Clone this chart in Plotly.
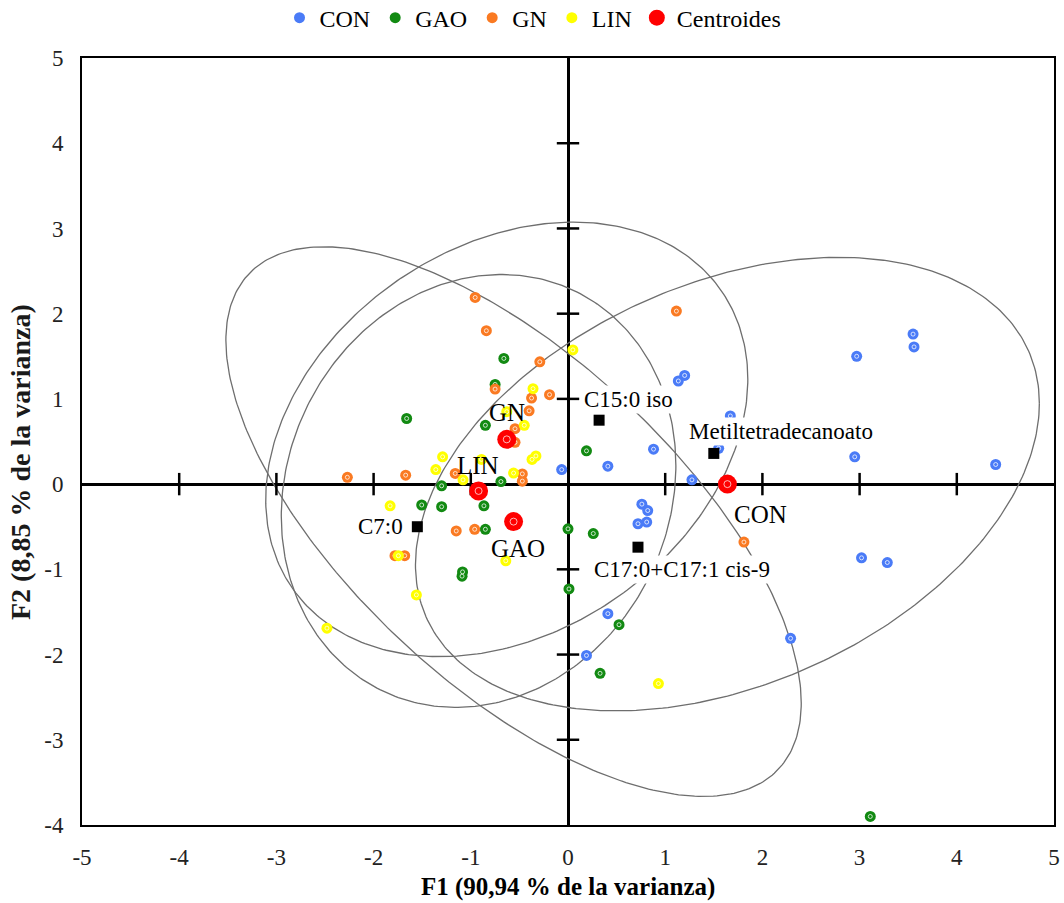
import numpy as np
import plotly.graph_objects as go

# ---------------- data ----------------
con_x = [-0.065, 3.55, 3.56, 2.97, 1.20, 1.135, 1.67, 1.55, 0.88, 0.41, 2.95, 4.40,
         1.275, 0.76, 0.82, 0.72, 0.81, 3.02, 3.285, 0.41, 2.29, 0.19]
con_y = [0.17, 1.76, 1.61, 1.50, 1.275, 1.21, 0.80, 0.42, 0.41, 0.21, 0.32, 0.23,
         0.05, -0.235, -0.31, -0.465, -0.445, -0.865, -0.92, -1.52, -1.81, -2.01]

gao_x = [-0.66, -0.75, -1.66, -0.85, -0.69, -1.30, -1.505, -1.30, -0.865, -0.85, 0.0,
         -1.085, -1.09, 0.01, 0.19, 0.26, 0.525, 0.33, 3.11]
gao_y = [1.475, 1.17, 0.77, 0.69, 0.03, -0.02, -0.245, -0.265, -0.255, -0.53, -0.525,
         -1.03, -1.08, -1.23, 0.39, -0.58, -1.65, -2.22, -3.90]

gn_x = [-0.955, -0.84, -0.29, -0.75, -0.375, -0.19, -0.40, -0.545, -0.545, -2.27, -1.67,
        -1.16, -0.47, -0.47, -1.15, -0.96, -1.78, -1.68, 1.115, 1.81]
gn_y = [2.19, 1.80, 1.435, 1.115, 1.01, 1.05, 0.86, 0.65, 0.49, 0.08, 0.105,
        0.125, 0.12, 0.035, -0.55, -0.53, -0.84, -0.84, 2.03, -0.68]

lin_x = [-0.36, -0.63, -0.45, -1.29, -1.36, -0.89, -0.33, -0.37, -0.56, -1.08, 0.05,
         -1.83, -1.745, -0.64, -1.56, -2.48, 0.93]
lin_y = [1.12, 0.85, 0.69, 0.32, 0.17, 0.29, 0.33, 0.29, 0.13, 0.05, 1.575,
         -0.255, -0.84, -0.90, -1.30, -1.69, -2.34]

centroid_names = ["CON", "GAO", "GN", "LIN"]
centroid_x = [1.64, -0.56, -0.63, -0.92]
centroid_y = [0.0, -0.44, 0.525, -0.08]

# confidence ellipse shape (covariance-like terms, data units)
ell_sxx = [10.3, 8.76, 6.15, 4.12]
ell_sxy = [3.04, -6.3, 1.75, 0.6]
ell_syy = [7.08, 10.4, 6.5, 6.45]

var_names = ["C15:0 iso", "Metiltetradecanoato", "C7:0", "C17:0+C17:1 cis-9"]
var_x = [0.32, 1.50, -1.55, 0.72]
var_y = [0.75, 0.36, -0.50, -0.74]

x_ticks = [-5, -4, -3, -2, -1, 0, 1, 2, 3, 4, 5]
y_ticks = [-4, -3, -2, -1, 0, 1, 2, 3, 4, 5]

# ---------------- styling ----------------
FONT = "Liberation Serif"
col = {"CON": "#4A7BF7", "GAO": "#128A12", "GN": "#FA7A22", "LIN": "#FFFF00"}

fig = go.Figure()

# ellipses
t = np.linspace(0, 2 * np.pi, 361)
for i in range(4):
    S = np.array([[ell_sxx[i], ell_sxy[i]], [ell_sxy[i], ell_syy[i]]])
    L = np.linalg.cholesky(S)
    pts = L @ np.vstack([np.cos(t), np.sin(t)])
    fig.add_trace(go.Scatter(x=centroid_x[i] + pts[0], y=centroid_y[i] + pts[1],
                             mode="lines", line=dict(color="#6E6E6E", width=1.3),
                             showlegend=False, hoverinfo="skip"))

# tick marks on the zero lines
xt = [v for v in x_ticks if v not in (0, x_ticks[0], x_ticks[-1])]
yt = [v for v in y_ticks if v not in (0, y_ticks[0], y_ticks[-1])]
fig.add_trace(go.Scatter(x=xt, y=[0] * len(xt), mode="markers",
                         marker=dict(symbol="line-ns-open", size=16, color="black",
                                     line=dict(color="black", width=2.5)),
                         showlegend=False, hoverinfo="skip"))
fig.add_trace(go.Scatter(x=[0] * len(yt), y=yt, mode="markers",
                         marker=dict(symbol="line-ew-open", size=16, color="black",
                                     line=dict(color="black", width=2.5)),
                         showlegend=False, hoverinfo="skip"))

groups = [("CON", con_x, con_y), ("GAO", gao_x, gao_y), ("GN", gn_x, gn_y), ("LIN", lin_x, lin_y)]
for name, gx, gy in groups:
    fig.add_trace(go.Scatter(x=gx, y=gy, mode="markers", name=name,
                             marker=dict(symbol="circle", size=11, color=col[name], line=dict(width=0))))
    fig.add_trace(go.Scatter(x=gx, y=gy, mode="markers", showlegend=False, hoverinfo="skip",
                             marker=dict(symbol="circle-open", size=4, color="rgba(255,255,255,0.75)",
                                         line=dict(width=1, color="rgba(255,255,255,0.75)"))))

# centroids
fig.add_trace(go.Scatter(x=centroid_x, y=centroid_y, mode="markers", name="Centroides",
                         marker=dict(symbol="circle", size=19, color="#FF0000", line=dict(width=0))))
fig.add_trace(go.Scatter(x=centroid_x, y=centroid_y, mode="markers", showlegend=False, hoverinfo="skip",
                         marker=dict(symbol="circle-open", size=7, color="rgba(255,255,255,0.7)",
                                     line=dict(width=1, color="rgba(255,255,255,0.7)"))))

# variables (black squares)
fig.add_trace(go.Scatter(x=var_x, y=var_y, mode="markers", showlegend=False,
                         marker=dict(symbol="square", size=11, color="black")))

# variable labels
var_lbl = [dict(xanchor="left", xshift=-17, yshift=21),
           dict(xanchor="left", xshift=-27, yshift=22),
           dict(xanchor="right", xshift=-12, yshift=0),
           dict(xanchor="left", xshift=-46, yshift=-22)]
for i, nm in enumerate(var_names):
    fig.add_annotation(x=var_x[i], y=var_y[i], text=nm, showarrow=False,
                       font=dict(family=FONT, size=23, color="black"),
                       bgcolor="white", borderpad=1, yanchor="middle", **var_lbl[i])

# centroid labels
cen_lbl = [dict(xshift=33, yshift=-30), dict(xshift=4, yshift=-27),
           dict(xshift=0, yshift=27), dict(xshift=-1, yshift=25)]
for i, nm in enumerate(centroid_names):
    fig.add_annotation(x=centroid_x[i], y=centroid_y[i], text=nm, showarrow=False,
                       font=dict(family=FONT, size=25, color="black"),
                       xanchor="center", yanchor="middle", **cen_lbl[i])

# axis titles
fig.add_annotation(xref="paper", yref="paper", x=0.5, y=-0.081, text="<b>F1 (90,94 % de la varianza)</b>",
                   showarrow=False, font=dict(family=FONT, size=25, color="black"),
                   xanchor="center", yanchor="middle")
fig.add_annotation(xref="paper", yref="paper", x=-0.064, y=0.473, text="<b>F2 (8,85 % de la varianza)</b>",
                   showarrow=False, textangle=-90, font=dict(family=FONT, size=28, color="#1a1a1a"),
                   xanchor="center", yanchor="middle")

fig.update_layout(
    width=1064, height=903,
    margin=dict(l=82, r=10, t=58, b=78, autoexpand=False),
    paper_bgcolor="white", plot_bgcolor="white",
    font=dict(family=FONT, size=22, color="black"),
    legend=dict(orientation="h", x=0.464, xanchor="center", y=1.052, yanchor="middle",
                font=dict(family=FONT, size=24, color="black"), itemsizing="trace",
                itemwidth=30, tracegroupgap=0),
    showlegend=True,
)
fig.update_xaxes(range=[-5, 5], tickvals=x_ticks, ticktext=[str(v) for v in x_ticks],
                 showgrid=False, zeroline=True, zerolinecolor="black", zerolinewidth=2.5,
                 showline=True, mirror=True, linecolor="black", linewidth=2, automargin=False,
                 ticks="", ticklabelstandoff=10, tickfont=dict(family=FONT, size=23, color="#222"))
fig.update_yaxes(range=[-4, 5], tickvals=y_ticks, ticktext=[str(v) for v in y_ticks],
                 showgrid=False, zeroline=True, zerolinecolor="black", zerolinewidth=2.5,
                 showline=True, mirror=True, linecolor="black", linewidth=2, automargin=False,
                 ticks="", ticklabelstandoff=12, tickfont=dict(family=FONT, size=23, color="#222"))

fig.write_html("out.html", config={"displayModeBar": False},
               post_script="document.body.style.margin='0';document.body.style.overflow='hidden';")
